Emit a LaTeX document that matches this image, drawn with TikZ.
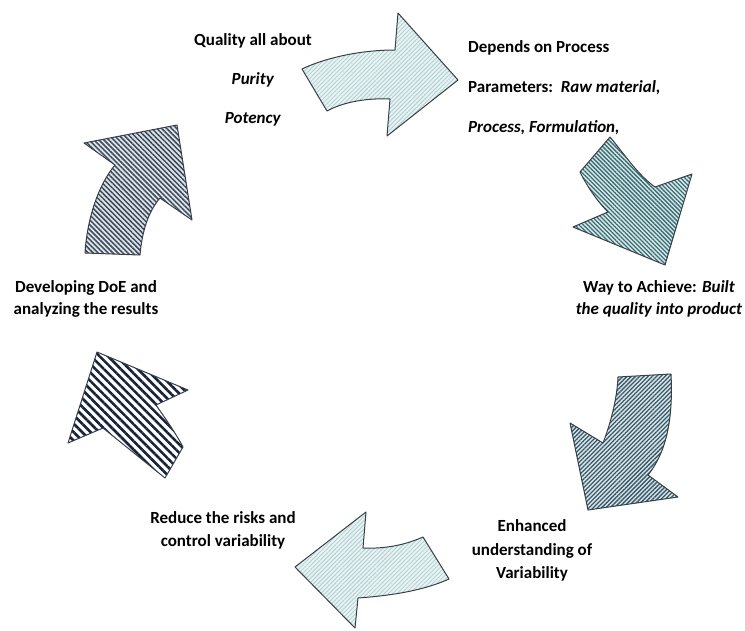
\documentclass[tikz,border=0pt]{standalone}
\usepackage{fontspec}
\setmainfont{Carlito}
\usetikzlibrary{patterns.meta}
\definecolor{edge}{HTML}{36404A}
\definecolor{lightbase}{HTML}{E6F3F3}
\definecolor{lightline}{HTML}{B4CDD1}
\definecolor{tealbase}{HTML}{D5EAEA}
\definecolor{tealline}{HTML}{3E6C72}
\definecolor{slatebase}{HTML}{D8E6EA}
\definecolor{slateline}{HTML}{3A5868}
\definecolor{greybase}{HTML}{DDE4EA}
\definecolor{greyline}{HTML}{3D4858}
\definecolor{navyline}{HTML}{18233A}
\tikzset{
  arr/.style={draw=edge, line width=1pt, line join=round},
  lbl/.style={inner sep=0pt, font=\bfseries\fontsize{17}{#1}\selectfont},
  lbl/.default=23,
}
\begin{document}
\begin{tikzpicture}[x=1pt,y=-1pt]
\useasboundingbox (0,0) rectangle (745,630);

% top arrow (light)
\draw[arr, preaction={fill=lightbase}, pattern={Lines[angle=45,distance=3pt,line width=0.8pt]}, pattern color=lightline]
  (302,69) .. controls (325,58) and (360,50) .. (395,50) -- (398,13) -- (458,80) -- (387,136)
  -- (390,99) .. controls (370,98) and (345,101) .. (327,111) -- cycle;

% right upper arrow (teal)
\draw[arr, preaction={fill=tealbase}, pattern={Lines[angle=-45,distance=3pt,line width=1.3pt]}, pattern color=tealline]
  (580,172) -- (610,137) .. controls (625,155) and (638,175) .. (655,187) -- (692,174) -- (665,265)
  -- (573,227) -- (608,212) .. controls (598,202) and (588,188) .. (580,172) -- cycle;

% right lower arrow (slate)
\draw[arr, preaction={fill=slatebase}, pattern={Lines[angle=45,distance=3pt,line width=1.3pt]}, pattern color=slateline]
  (618,377) -- (671,374) .. controls (673,415) and (668,450) .. (648,475) -- (678,497) -- (588,510)
  -- (570,423) -- (603,443) .. controls (610,425) and (617,400) .. (618,377) -- cycle;

% bottom arrow (light)
\draw[arr, preaction={fill=lightbase}, pattern={Lines[angle=45,distance=3pt,line width=0.8pt]}, pattern color=lightline]
  (366,512) -- (295,567) -- (355,628) -- (358,598) .. controls (385,596) and (420,592) .. (449,579)
  -- (423,537) .. controls (405,545) and (385,549) .. (363,548) -- cycle;

% bottom-left arrow (navy wide stripes)
\draw[arr, preaction={fill=white}, pattern={Lines[angle=-45,distance=6pt,line width=2.6pt]}, pattern color=navyline]
  (97,352) -- (188,390) -- (156,405) .. controls (165,418) and (175,432) .. (183,447) -- (165,478)
  -- (103,428) -- (68,443) -- cycle;

% upper-left arrow (grey)
\draw[arr, preaction={fill=greybase}, pattern={Lines[angle=-45,distance=3.5pt,line width=1.5pt]}, pattern color=greyline]
  (85,253) -- (140,255) .. controls (142,232) and (148,212) .. (160,198) -- (192,220) -- (177,125)
  -- (84,143) -- (115,165) .. controls (98,185) and (87,220) .. (85,253) -- cycle;

% labels
\node[lbl=39, align=center, anchor=north] (quality) at (253,33.5)
  {Quality all about\\ \textit{Purity}\\ \textit{Potency}};
\node[lbl=40, align=left, anchor=north west] (depends) at (468,40.5)
  {Depends on Process\\ Parameters:\ \ \textit{Raw material,}\\ \textit{Process, Formulation,}};
\node[lbl=22, align=center, anchor=north] (way) at (659,280.5)
  {Way to Achieve: \textit{Built}\\ \textit{the quality into product}};
\node[lbl=22, align=center, anchor=north] (doe) at (86,280.5)
  {Developing DoE and\\ analyzing the results};
\node[lbl=23, align=center, anchor=north] (reduce) at (223,511.5)
  {Reduce the risks and\\ control variability};
\node[lbl=23.5, align=center, anchor=north] (enhanced) at (532,519.5)
  {Enhanced\\ understanding of\\ Variability};
\end{tikzpicture}
\end{document}
